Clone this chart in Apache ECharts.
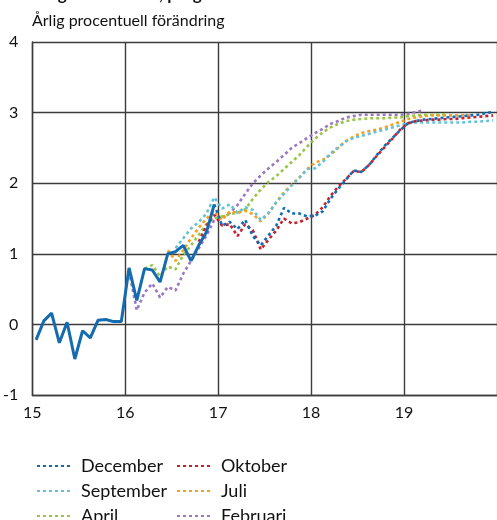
<!DOCTYPE html>
<html>
<head>
<meta charset="utf-8">
<script src="https://cdn.jsdelivr.net/npm/echarts@6/dist/echarts.min.js"></script>
<style>
  html, body { margin: 0; padding: 0; background: #fff; }
  #chart { width: 497px; height: 520px; }
</style>
</head>
<body>
<div id="chart"></div>
<script>
// KPI, annual percentage change. Monthly data; month index 0 = January 2015.
const firstYear = 15;
const yTicks = [-1, 0, 1, 2, 3, 4];
const xTicks = [15, 16, 17, 18, 19];

// Outcome, Jan 2015 - Dec 2016
const utfall = [-0.22, 0.05, 0.16, -0.26, 0.03, -0.49, -0.09, -0.19, 0.06, 0.07, 0.04, 0.04,
                0.80, 0.34, 0.79, 0.77, 0.60, 1.00, 1.03, 1.12, 0.90, 1.12, 1.31, 1.70];

// Forecasts: first month index and monthly values
const decemberStart = 23;
const december = [1.70,
  1.40, 1.45, 1.35, 1.48, 1.25, 1.12, 1.26, 1.40, 1.65, 1.57, 1.57, 1.53,
  1.54, 1.60, 1.78, 1.92, 2.05, 2.18, 2.16, 2.26, 2.40, 2.53, 2.64, 2.75,
  2.85, 2.88, 2.90, 2.91, 2.92, 2.93, 2.94, 2.95, 2.96, 2.97, 2.99, 3.01];

const oktoberStart = 21;
const oktober = [1.17, 1.40, 1.55,
  1.40, 1.42, 1.25, 1.42, 1.33, 1.06, 1.20, 1.33, 1.50, 1.43, 1.45, 1.50,
  1.55, 1.66, 1.82, 1.95, 2.06, 2.17, 2.16, 2.26, 2.39, 2.51, 2.63, 2.76,
  2.85, 2.88, 2.89, 2.90, 2.90, 2.91, 2.91, 2.92, 2.93, 2.94, 2.95, 2.96];

const septemberStart = 18;
const september = [1.08, 1.22, 1.36, 1.45, 1.57, 1.80,
  1.64, 1.70, 1.58, 1.66, 1.62, 1.48, 1.58, 1.73, 1.85, 1.97, 2.08, 2.20,
  2.21, 2.30, 2.42, 2.51, 2.59, 2.64, 2.67, 2.70, 2.73, 2.76, 2.79, 2.82,
  2.85, 2.86, 2.86, 2.86, 2.86, 2.86, 2.86, 2.86, 2.87, 2.87, 2.88, 2.89];

const juliStart = 17;
const juli = [1.05, 0.90, 1.05, 1.22, 1.37, 1.50, 1.60,
  1.48, 1.60, 1.58, 1.61, 1.56, 1.46, 1.57, 1.73, 1.87, 1.98, 2.08, 2.20,
  2.29, 2.33, 2.40, 2.50, 2.60, 2.66, 2.71, 2.74, 2.76, 2.79, 2.83, 2.87,
  2.91, 2.93, 2.95, 2.96, 2.96, 2.96, 2.96, 2.96, 2.96];

const aprilStart = 14;
const april = [0.79, 0.84, 0.68, 0.82, 0.78, 0.98, 1.12, 1.27, 1.42, 1.50,
  1.53, 1.56, 1.58, 1.63, 1.78, 1.91, 2.02, 2.10, 2.20, 2.30, 2.40, 2.52,
  2.63, 2.72, 2.79, 2.84, 2.88, 2.90, 2.91, 2.92, 2.92, 2.92, 2.93, 2.93,
  2.95, 2.96, 2.97, 2.97, 2.97, 2.98];

const februariStart = 12;
const februari = [0.75, 0.20, 0.45, 0.58, 0.38, 0.53, 0.48, 0.72, 0.90, 1.08, 1.26, 1.48,
  1.51, 1.58, 1.69, 1.85, 2.00, 2.11, 2.21, 2.30, 2.40, 2.50, 2.57, 2.64,
  2.71, 2.77, 2.84, 2.88, 2.93, 2.95, 2.97, 2.97, 2.97, 2.97, 2.97, 2.97,
  2.98, 3.01, 3.03];

// Legend grid: two columns, three rows
const legendColumns = [['December', 'September', 'April'], ['Oktober', 'Juli', 'Februari']];

const FONT = 'Lato, "Liberation Sans", sans-serif';

// place a monthly value in the middle of its month on the year axis
function toPoints(start, values) {
  return values.map((v, k) => [firstYear + (start + k + 0.5) / 12, v]);
}

function forecast(name, color, start, values) {
  return {
    name: name,
    type: 'line',
    data: toPoints(start, values),
    showSymbol: false,
    symbol: 'none',
    color: color,
    lineStyle: { color: color, width: 2.6, type: [3, 3], cap: 'butt' },
    z: 2
  };
}

// one legend block per entry so the columns line up
const legends = [];
legendColumns.forEach((col, c) => {
  col.forEach((name, r) => {
    legends.push({
      data: [name],
      left: 36 + c * 140,
      top: 457 + r * 25,
      padding: 0,
      itemWidth: 36,
      itemHeight: 14,
      itemStyle: { opacity: 0 },
      textStyle: { fontFamily: FONT, fontSize: 18, color: '#111', padding: [0, 0, 0, 3] }
    });
  });
});

const chart = echarts.init(document.getElementById('chart'), null, { renderer: 'canvas' });

const axisLineStyle = { color: '#3c3c3c', width: 1.4 };

chart.setOption({
  animation: false,
  backgroundColor: '#ffffff',
  grid: { left: 32, top: 42, bottom: 125, right: -9 },
  xAxis: {
    type: 'value',
    min: xTicks[0],
    max: 20,
    interval: 1,
    axisLine: { show: true, onZero: false, lineStyle: axisLineStyle },
    axisTick: { show: false },
    splitLine: { show: true, lineStyle: axisLineStyle },
    axisLabel: {
      margin: 10,
      color: '#111',
      fontFamily: FONT,
      fontSize: 16,
      showMaxLabel: false,
      formatter: v => (xTicks.indexOf(v) >= 0 ? String(v) : '')
    }
  },
  yAxis: {
    type: 'value',
    min: yTicks[0],
    max: yTicks[yTicks.length - 1],
    interval: 1,
    axisLine: { show: true, lineStyle: axisLineStyle },
    axisTick: { show: false },
    splitLine: { show: true, lineStyle: axisLineStyle },
    axisLabel: { margin: 14, color: '#111', fontFamily: FONT, fontSize: 16 }
  },
  legend: legends,
  graphic: [
    {
      type: 'text', left: 32, top: -14,
      style: { text: 'Diagram 2.4. KPI, prognoser 2016', font: 'bold 17px ' + FONT, fill: '#111' }
    },
    {
      type: 'text', left: 32, top: 13,
      style: { text: 'Årlig procentuell förändring', font: '16px ' + FONT, fill: '#111' }
    }
  ],
  series: [
    forecast('Februari', '#9a78c2', februariStart, februari),
    forecast('April', '#98c546', aprilStart, april),
    forecast('Juli', '#f6a01d', juliStart, juli),
    forecast('September', '#62c2d8', septemberStart, september),
    forecast('Oktober', '#c6202e', oktoberStart, oktober),
    forecast('December', '#0f6db4', decemberStart, december),
    {
      name: 'Utfall',
      type: 'line',
      data: toPoints(0, utfall),
      symbol: 'none',
      showSymbol: false,
      lineStyle: { color: '#146bb0', width: 3 },
      color: '#146bb0',
      z: 5
    }
  ]
});
</script>
</body>
</html>
